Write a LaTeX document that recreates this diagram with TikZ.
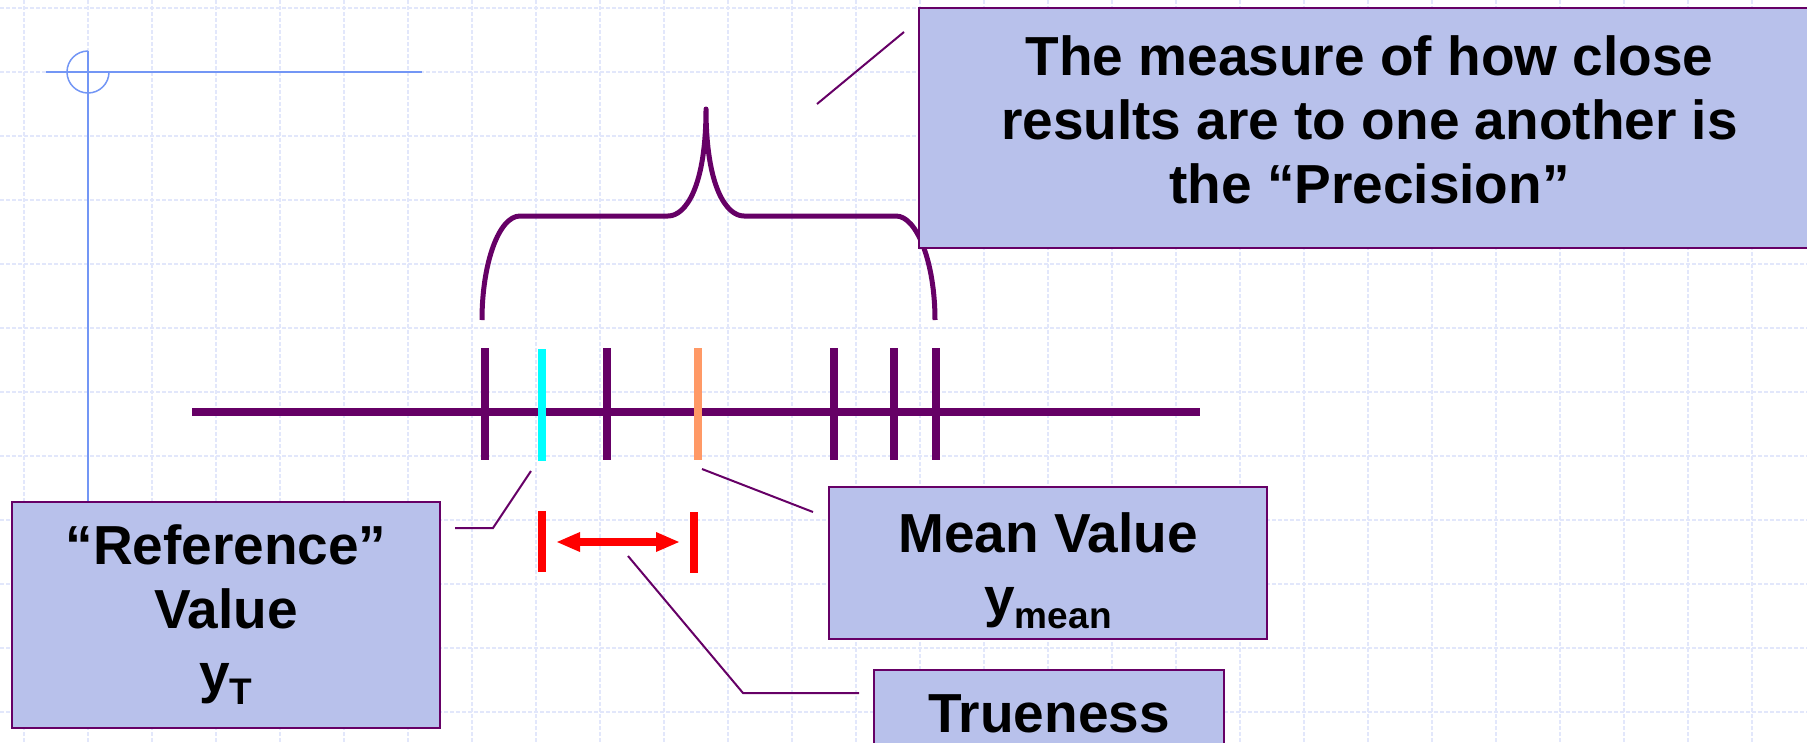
\documentclass[tikz,border=0pt]{standalone}
\usepackage{fontspec}
\setmainfont{Liberation Sans}
\usepackage{xcolor}
\usepackage{tikz}
\usetikzlibrary{arrows.meta}

\definecolor{plum}{HTML}{660066}
\definecolor{boxfill}{HTML}{B8C1EB}
\definecolor{crossblue}{HTML}{7396F5}
\definecolor{gridblue}{HTML}{E2E7FB}
\definecolor{refcyan}{HTML}{00FFFF}
\definecolor{meanorange}{HTML}{FF9966}
\newcommand{\lowsub}[1]{\raisebox{-12pt}{\fontsize{37}{37}\selectfont #1}}

\begin{document}
\begin{tikzpicture}[x=1pt, y=-1pt,
    gridline/.style={gridblue, line width=1.3pt, dash pattern=on 4pt off 2pt},
    infobox/.style={draw=plum, line width=2pt, fill=boxfill, align=center,
      inner sep=0pt, font=\bfseries\fontsize{55}{64}\selectfont},
    leader/.style={plum, line width=2pt},
    tickmark/.style={plum, line width=7.5pt},
    offsetbar/.style={red, line width=7.5pt}]
  \clip (0,0) rectangle (1807,742);
  % ---- background grid ----
  \foreach \gx in {24,88,...,1816} {
    \draw[gridline] (\gx,0) -- (\gx,742);
  }
  \foreach \gy in {8,72,...,744} {
    \draw[gridline] (0,\gy) -- (1807,\gy);
  }
  % ---- crosshair ----
  \draw[crossblue, line width=1.5pt] (46,72) -- (422,72);
  \draw[crossblue, line width=1.5pt] (88,51) -- (88,503);
  \draw[crossblue, line width=1.5pt] (88,51) arc[start angle=-90, end angle=-360, radius=21];

  % ---- brace over the results ----
  \draw[plum, line width=5pt, line join=round]
    (482,320) .. controls (482,263) and (499,216) .. (520,216) -- (668,216)
    .. controls (686,216) and (706,186) .. (706,109)
    .. controls (706,186) and (726,216) .. (744,216) -- (896,216)
    .. controls (917,216) and (935,263) .. (935,320);

  % ---- number line with results ----
  \draw[plum, line width=8pt] (192,412) -- (1200,412);
  \foreach \tx in {485,607,834,894,936} {
    \draw[tickmark] (\tx,348) -- (\tx,460);
  }
  \draw[tickmark, refcyan] (542,349) -- (542,461);
  \draw[tickmark, meanorange] (698,348) -- (698,460);

  % ---- offset between reference and mean ----
  \draw[offsetbar] (542,511) -- (542,572);
  \draw[offsetbar] (694,512) -- (694,573);
  \coordinate (offL) at (556,542);
  \coordinate (offR) at (680,542);
  \draw[red, line width=8pt, {Triangle[length=24pt,width=18pt]}-{Triangle[length=24pt,width=18pt]}] (offL) -- (offR);

  % ---- leaders ----
  \coordinate (refFoot) at (455,528);
  \coordinate (refBend) at (493,528);
  \coordinate (refTip) at (531,471);
  \coordinate (meanTip) at (702,469);
  \coordinate (meanFoot) at (813,512);
  \coordinate (trueTip) at (628,556);
  \coordinate (trueBend) at (743,693);
  \coordinate (trueFoot) at (859,693);
  \coordinate (precFoot) at (817,104);
  \coordinate (precTip) at (904,32);
  \draw[leader] (refFoot) -- (refBend) -- (refTip);
  \draw[leader] (meanTip) -- (meanFoot);
  \draw[leader] (trueTip) -- (trueBend) -- (trueFoot);
  \draw[leader] (precFoot) -- (precTip);

  % ---- labels ----
  \node[infobox, minimum width=428pt, minimum height=226pt] (refbox) at (226,615)
    {“Reference”\\Value\\y\lowsub{T}};
  \node[infobox, minimum width=438pt, minimum height=152pt] (meanbox) at (1048,563)
    {\rule{0pt}{56pt}Mean Value\\y\lowsub{mean}};
  \node[infobox, minimum width=350pt, minimum height=150pt, text depth=62pt,
    anchor=north] (truebox) at (1049,669) {Trueness};
  \node[infobox, minimum width=901pt, minimum height=240pt] (precbox) at (1369.5,128)
    {The measure of how close\\results are to one another is\\the “Precision”\rule[-16pt]{0pt}{16pt}};
\end{tikzpicture}
\end{document}
